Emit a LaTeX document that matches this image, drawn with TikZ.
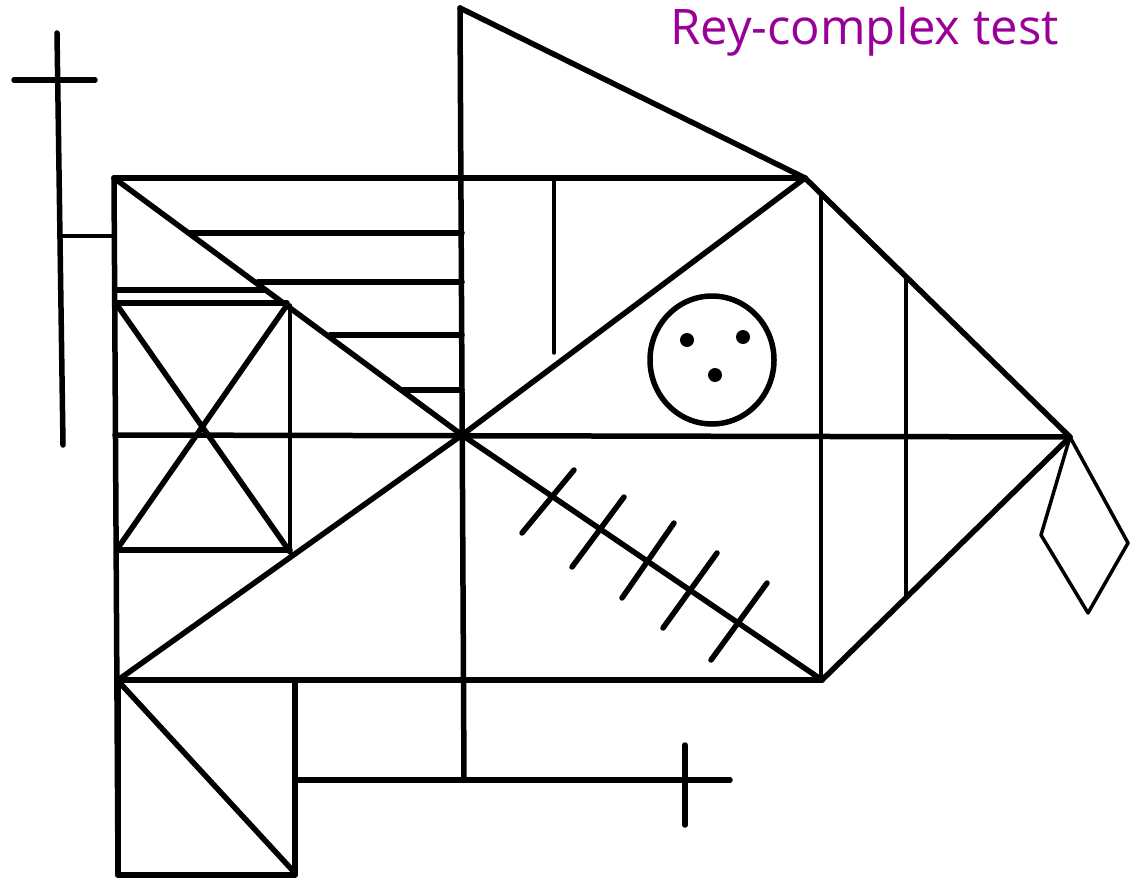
\documentclass[tikz,border=0pt]{standalone}
\usepackage{fontspec}
\newfontfamily\titlefont{Open Sans}
\definecolor{titlepurple}{RGB}{153,0,153}
\begin{document}
\begin{tikzpicture}[x=1pt,y=-1pt,
  thick line/.style={line width=5.5pt,line cap=round,line join=round},
  thin line/.style={line width=3.5pt,line cap=round,line join=round},
  dotmark/.style={circle,fill=black,inner sep=0pt,minimum size=14pt}]
\useasboundingbox (0,0) rectangle (1131,882);
% key points
\coordinate (C) at (462,435);
\coordinate (TL) at (114,178);
\coordinate (TR) at (805,178);
\coordinate (T) at (460,8);
\coordinate (R) at (1070,437);
\coordinate (BR) at (822,680);
\coordinate (BL) at (118,680);
\coordinate (ML) at (115,435);
\coordinate (CB) at (464,780);
% main rectangle
\draw[thick line] (TL) -- (TR);
\draw[thick line] (TL) -- (118,875);
\draw[thick line] (BL) -- (BR);
\draw[thin line] (821,193) -- (821,680);
% middle horizontal and vertical
\draw[thick line] (ML) -- (R);
\draw[thick line] (T) -- (CB);
% top triangle
\draw[thick line] (T) -- (TR);
% right triangle
\draw[thick line] (TR) -- (R) -- (BR);
\draw[thin line] (906,277) -- (906,598);
% diagonals of rectangle
\draw[thick line] (TL) -- (C) -- (TR);
\draw[thick line] (BL) -- (C) -- (BR);
% vertical in upper right quadrant
\draw[thin line] (554,178) -- (554,353);
% parallel lines in upper left quadrant
\draw[thick line] (190,233) -- (462,233);
\draw[thick line] (258,282) -- (462,282);
\draw[thick line] (330,335) -- (462,335);
\draw[thick line] (403,390) -- (462,390);
% lines near small square
\draw[thick line] (115,290) -- (265,290);
\draw[thick line] (115,303) -- (287,303);
% small square with cross
\draw[thin line] (290,305) -- (290,552);
\draw[thick line] (118,550) -- (290,550);
\draw[thick line] (117,305) -- (290,552);
\draw[thick line] (287,305) -- (120,545);
% circle with dots
\draw[thick line] (712,360) ellipse [x radius=62pt, y radius=64pt];
\node[dotmark] (d1) at (687,340) {};
\node[dotmark] (d2) at (743,337) {};
\node[dotmark] (d3) at (715,375) {};
% ticks along lower diagonal
\draw[thick line] (574,470) -- (522,533);
\draw[thick line] (624,497) -- (572,567);
\draw[thick line] (674,523) -- (622,598);
\draw[thick line] (717,553) -- (663,628);
\draw[thick line] (767,583) -- (711,660);
% diamond on right apex
\draw[thin line] (R) -- (1041,535) -- (1088,613) -- (1128,543) -- cycle;
% left cross
\draw[thick line] (57,33) -- (63,445);
\draw[thick line] (14,80) -- (95,80);
\draw[thin line] (62,236) -- (114,236);
% lower left square
\draw[thick line] (BL) -- (118,875) -- (295,875) -- (295,683);
\draw[thick line] (120,683) -- (295,873);
% lower cross
\draw[thick line] (295,780) -- (730,780);
\draw[thick line] (685,745) -- (685,825);
% title
\node[font=\titlefont\fontsize{49}{55}\selectfont, text=titlepurple, anchor=base west, inner sep=0pt] (title) at (670,45) {Rey-complex test};
\end{tikzpicture}
\end{document}
